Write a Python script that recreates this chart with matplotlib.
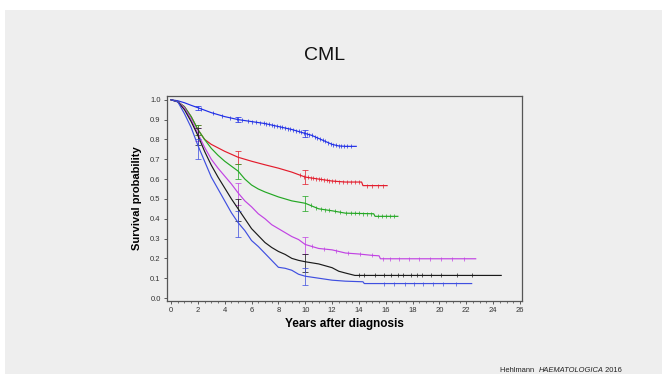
import numpy as np
import matplotlib.pyplot as plt
from matplotlib.patches import Rectangle
from matplotlib.transforms import IdentityTransform
from matplotlib.ticker import MultipleLocator

plt.rcParams['font.family'] = ['Liberation Sans', 'DejaVu Sans']

# Kaplan-Meier curves (years, survival probability)
t_blue1 = [0, 0.5, 1, 1.5, 2, 3, 4, 5, 6, 7, 8, 9, 10, 10.5, 11, 11.5, 12, 12.5, 13, 13.8]
s_blue1 = [1.0, 0.995, 0.985, 0.972, 0.96, 0.935, 0.915, 0.90, 0.89, 0.88, 0.865, 0.85, 0.83,
           0.82, 0.805, 0.79, 0.775, 0.767, 0.765, 0.765]

t_red = [0, 0.5, 1, 1.5, 2, 2.5, 3, 4, 5, 6, 7, 8, 9, 10, 11, 12, 13, 14.2, 14.3, 16.1]
s_red = [1.0, 0.99, 0.965, 0.915, 0.85, 0.80, 0.775, 0.74, 0.71, 0.69, 0.672, 0.655, 0.635,
         0.61, 0.60, 0.59, 0.585, 0.585, 0.567, 0.567]

t_green = [0, 0.5, 1, 1.5, 2, 2.5, 3, 3.5, 4, 4.5, 5, 5.5, 6, 6.5, 7, 8, 9, 10, 11, 12, 13,
           15.1, 15.2, 16.9]
s_green = [1.0, 0.99, 0.965, 0.915, 0.85, 0.80, 0.755, 0.72, 0.69, 0.665, 0.64, 0.60, 0.57,
           0.55, 0.535, 0.51, 0.49, 0.478, 0.45, 0.44, 0.428, 0.425, 0.412, 0.412]

t_mag = [0, 0.5, 1, 1.5, 2, 2.5, 3, 3.5, 4, 4.5, 5, 5.5, 6, 6.5, 7, 7.5, 8, 9, 9.5, 10,
         11, 12, 13, 14, 15, 15.5, 15.6, 22.7]
s_mag = [1.0, 0.99, 0.96, 0.90, 0.83, 0.76, 0.70, 0.655, 0.615, 0.575, 0.53, 0.49, 0.46,
         0.425, 0.40, 0.37, 0.35, 0.31, 0.295, 0.27, 0.25, 0.243, 0.227, 0.222, 0.215, 0.213,
         0.198, 0.198]

t_black = [0, 0.5, 1, 1.5, 2, 2.5, 3, 3.5, 4, 4.5, 5, 5.5, 6, 6.5, 7, 7.5, 8, 8.5, 9, 9.5,
           10, 11, 12, 12.5, 13, 13.7, 24.6]
s_black = [1.0, 0.99, 0.95, 0.89, 0.82, 0.74, 0.67, 0.61, 0.555, 0.50, 0.45, 0.40, 0.35,
           0.315, 0.28, 0.255, 0.235, 0.22, 0.20, 0.19, 0.183, 0.172, 0.153, 0.135, 0.126,
           0.114, 0.114]

t_blue2 = [0, 0.5, 1, 1.5, 2, 2.5, 3, 3.5, 4, 4.5, 5, 5.5, 6, 6.5, 7, 7.5, 8, 8.5, 9, 9.5,
           10, 11, 12, 13, 14.3, 14.4, 22.4]
s_blue2 = [1.0, 0.99, 0.93, 0.86, 0.77, 0.69, 0.61, 0.55, 0.49, 0.43, 0.38, 0.34, 0.29,
           0.26, 0.225, 0.19, 0.155, 0.15, 0.14, 0.12, 0.11, 0.10, 0.09, 0.085, 0.082, 0.073,
           0.073]

# censored observations
c_blue1 = [2.2, 3.1, 3.8, 4.4, 4.9, 5.3, 5.7, 6.0, 6.3, 6.6, 6.9, 7.1, 7.3, 7.5, 7.7, 7.9,
           8.1, 8.3, 8.5, 8.7, 8.9, 9.1, 9.3, 9.5, 9.7, 9.9, 10.1, 10.3, 10.5, 10.7, 10.9,
           11.1, 11.3, 11.5, 11.7, 11.9, 12.1, 12.3, 12.5, 12.7, 12.9, 13.1, 13.4]
c_red = [9.6, 9.9, 10.2, 10.4, 10.6, 10.8, 11.0, 11.2, 11.4, 11.6, 11.8, 12.0, 12.2, 12.5,
         12.8, 13.1, 13.4, 13.7, 14.0, 14.6, 15.0, 15.4, 15.8]
c_green = [10.4, 10.8, 11.2, 11.5, 11.8, 12.2, 12.6, 13.0, 13.4, 13.7, 14.0, 14.3, 14.6,
           14.9, 15.4, 15.7, 16.0, 16.3, 16.6]
c_mag = [10.5, 11.4, 12.3, 13.2, 14.1, 15.0, 15.8, 16.3, 17.0, 17.7, 18.5, 19.3, 20.1, 20.9,
         21.8]
c_black = [14.0, 14.4, 15.2, 15.9, 16.4, 16.9, 17.3, 17.9, 18.3, 18.7, 19.4, 20.1, 21.3, 22.4]
c_blue2 = [15.9, 16.6, 17.4, 18.1, 18.8, 19.5, 20.3, 21.2]

# confidence intervals at 2, 5 and 10 years (lower, upper)
ci_years = [2, 5, 10]
ci_blue1 = ([0.95, 0.89, 0.81], [0.97, 0.915, 0.845])
ci_red = ([0.82, 0.675, 0.575], [0.875, 0.74, 0.645])
ci_green = ([0.82, 0.60, 0.44], [0.875, 0.675, 0.515])
ci_mag = ([0.79, 0.47, 0.22], [0.86, 0.58, 0.31])
ci_black = ([0.77, 0.39, 0.13], [0.86, 0.50, 0.22])
ci_blue2 = ([0.70, 0.31, 0.065], [0.80, 0.44, 0.15])

curves = [
    (t_blue1, s_blue1, c_blue1, ci_blue1, '#1f2ee6'),
    (t_red, s_red, c_red, ci_red, '#e31b2b'),
    (t_green, s_green, c_green, ci_green, '#23a723'),
    (t_mag, s_mag, c_mag, ci_mag, '#c143e3'),
    (t_black, s_black, c_black, ci_black, '#1a1a1a'),
    (t_blue2, s_blue2, c_blue2, ci_blue2, '#3f4fe0'),
]

bg = '#eeeeee'
fig = plt.figure(figsize=(6.62, 3.74), dpi=100, facecolor='white')
fig.patches.append(Rectangle((5 / 662, 0), 1, 1 - 10 / 374, transform=fig.transFigure,
                             facecolor=bg, edgecolor='none', zorder=-10))

ax = fig.add_axes([167 / 662, 1 - 301 / 374, 355 / 662, 205 / 374])
ax.set_facecolor(bg)

for t, s, cens, ci, col in curves:
    ax.plot(t, s, color=col, lw=0.85)
    ax.plot(cens, np.interp(cens, t, s), ls='none', marker='|', ms=2.4, mew=0.5, color=col)
    mid = np.interp(ci_years, t, s)
    lo, hi = np.array(ci[0]), np.array(ci[1])
    ax.errorbar(ci_years, mid, yerr=[mid - lo, hi - mid], fmt='none', ecolor=col,
                elinewidth=0.7, capsize=2.5, capthick=0.7, alpha=0.75)

ax.set_xlim(-0.3, 26.15)
ax.set_ylim(-0.015, 1.019)
ax.set_xticks(range(0, 27, 2))
ax.xaxis.set_minor_locator(MultipleLocator(0.5))
ax.set_yticks(np.arange(0, 1.01, 0.1))
ax.set_yticklabels([f'{v:.1f}' for v in np.arange(0, 1.01, 0.1)])
ax.tick_params(labelsize=5.5, labelcolor='#333333', color='#444444', length=2.5, width=0.6,
               pad=2)
ax.tick_params(which='minor', length=1.3, width=0.5, color='#444444')
for sp in ax.spines.values():
    sp.set_color('#555555')
    sp.set_linewidth(0.9)

ax.set_xlabel('Years after diagnosis', fontsize=8.5, fontweight='bold', labelpad=3)
ax.set_ylabel('Survival probability', fontsize=8, fontweight='bold', labelpad=6)

fig.text(325 / 662, 1 - 55 / 374, 'CML', fontsize=14, ha='center', va='center',
         color='#111111')

# source line: author, journal in italics, year, laid out one after another
fs = 5.4
src = fig.text(500 / 662, 1 - 372 / 374, 'Hehlmann  ', fontsize=fs, va='baseline',
               color='#222222')
fig.canvas.draw()
base_y = src.get_window_extent().y0 + 0
x_next = src.get_window_extent().x1
y_pix = fig.transFigure.transform(src.get_position())[1]
jour = fig.text(x_next, y_pix, 'HAEMATOLOGICA', fontsize=fs, style='italic', color='#222222',
                va='baseline', transform=IdentityTransform())
fig.canvas.draw()
fig.text(jour.get_window_extent().x1, y_pix, ' 2016', fontsize=fs, color='#222222',
         va='baseline', transform=IdentityTransform())

fig.savefig('out.png', dpi=100, facecolor='white')
